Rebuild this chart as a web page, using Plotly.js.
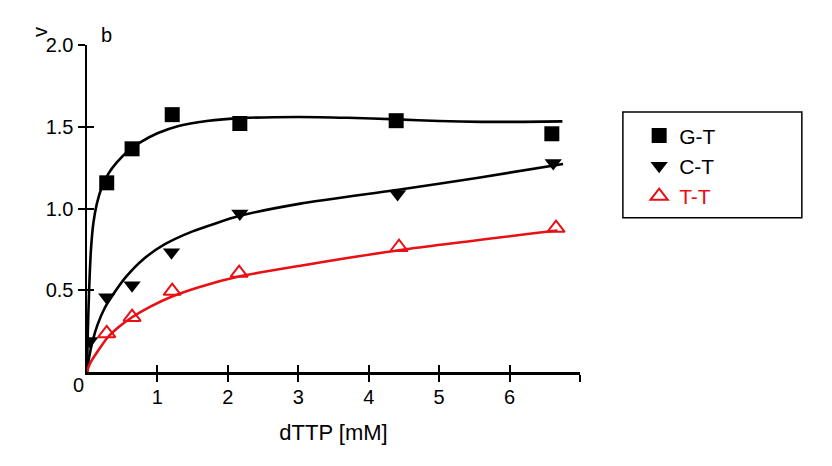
<!DOCTYPE html>
<html>
<head>
<meta charset="utf-8">
<script src="https://cdn.plot.ly/plotly-3.0.1.min.js"></script>
<style>
  html, body { margin: 0; padding: 0; background: #fff; }
  #chart { width: 832px; height: 466px; }
</style>
</head>
<body>
<div id="chart"></div>
<script>
// measured points, dTTP [mM] vs v
var dttp = [0.04, 0.28, 0.64, 1.2, 2.17, 4.41, 6.62];
var gtX = [0.28, 0.64, 1.21, 2.17, 4.39, 6.6];
var gtV = [1.157, 1.365, 1.574, 1.52, 1.537, 1.457];
var ctV = [0.19, 0.457, 0.531, 0.733, 0.97, 1.089, 1.278];
var ttX = [0.28, 0.64, 1.21, 2.16, 4.43, 6.66];
var ttV = [0.236, 0.335, 0.495, 0.605, 0.763, 0.88];

// fitted curves
var gtFitX = [0, 0.012, 0.03, 0.055, 0.09, 0.14, 0.21, 0.3, 0.42, 0.58, 0.78, 1.0, 1.3, 1.7, 2.2, 3.0, 3.7, 4.4, 5.0, 5.6, 6.2, 6.75];
var gtFitV = [0, 0.25, 0.5, 0.74, 0.91, 1.03, 1.13, 1.21, 1.28, 1.35, 1.41, 1.46, 1.505, 1.535, 1.553, 1.56, 1.555, 1.545, 1.535, 1.53, 1.53, 1.533];
var ctFitX = [0, 0.03, 0.08, 0.15, 0.25, 0.38, 0.55, 0.8, 1.1, 1.5, 2.17, 3.03, 4.42, 5.58, 6.76];
var ctFitV = [0, 0.09, 0.19, 0.29, 0.39, 0.48, 0.58, 0.69, 0.78, 0.86, 0.955, 1.03, 1.115, 1.19, 1.272];
var ttFitX = [0, 0.03, 0.08, 0.15, 0.28, 0.45, 0.64, 0.9, 1.2, 1.6, 2.17, 3.03, 4.43, 6.68];
var ttFitV = [0, 0.04, 0.08, 0.125, 0.205, 0.275, 0.335, 0.4, 0.46, 0.52, 0.585, 0.65, 0.745, 0.865];

var xTicks = [1, 2, 3, 4, 5, 6, 7];
var xTickText = ['1', '2', '3', '4', '5', '6', ''];
var yTicks = [0.5, 1.0, 1.5, 2.0];
var yTickText = ['0.5', '1.0', '1.5', '2.0'];

var red = 'rgb(232,16,20)';
var fnt = 'Liberation Sans, Arial, sans-serif';

var fitLine = function(x, y, color) {
  return {x: x, y: y, mode: 'lines', type: 'scatter', showlegend: false, hoverinfo: 'skip',
          line: {color: color, width: 2.6, shape: 'spline', smoothing: 0.6}};
};

var data = [
  fitLine(gtFitX, gtFitV, '#000'),
  fitLine(ctFitX, ctFitV, '#000'),
  fitLine(ttFitX, ttFitV, red),
  {x: gtX, y: gtV, name: 'G-T', mode: 'markers', type: 'scatter', xaxis: 'x2', yaxis: 'y2',
   marker: {symbol: 'square', size: 15, color: '#000'}},
  {x: dttp, y: ctV, name: 'C-T', mode: 'markers', type: 'scatter', xaxis: 'x2', yaxis: 'y2',
   marker: {symbol: 'triangle-down', size: 15, color: '#000'}},
  {x: ttX, y: ttV, name: '<span style="color:' + red + '">T-T</span>', mode: 'markers', type: 'scatter',
   xaxis: 'x2', yaxis: 'y2',
   marker: {symbol: 'triangle-up-open', size: 15, color: red, line: {width: 2, color: red}}}
];

var layout = {
  width: 832, height: 466,
  margin: {l: 87, r: 252, t: 45, b: 94},
  paper_bgcolor: '#fff', plot_bgcolor: '#fff',
  font: {family: fnt, size: 20, color: '#000'},
  showlegend: true,
  xaxis: {
    range: [0, 7], showgrid: false, zeroline: false,
    showline: true, linecolor: '#000', linewidth: 2.5,
    tickmode: 'array', tickvals: xTicks, ticktext: xTickText,
    ticks: 'outside', ticklen: 7, tickwidth: 2, tickcolor: '#000', ticklabelstandoff: -2,
    title: {text: 'dTTP [mM]', font: {size: 22}, standoff: 18}
  },
  yaxis: {
    range: [0, 2], showgrid: false, zeroline: false,
    showline: true, linecolor: '#000', linewidth: 2.5,
    tickmode: 'array', tickvals: yTicks, ticktext: yTickText,
    ticks: 'outside', ticklen: 7, tickwidth: 2, tickcolor: '#000'
  },
  // second pair of axes only to draw the inner half of the crossing ticks
  xaxis2: {
    overlaying: 'x', anchor: 'y2', range: [0, 7], showgrid: false, zeroline: false, showline: false,
    tickmode: 'array', tickvals: xTicks, ticks: 'inside', ticklen: 7, tickwidth: 2, tickcolor: '#000',
    showticklabels: false
  },
  yaxis2: {
    overlaying: 'y', anchor: 'x2', range: [0, 2], showgrid: false, zeroline: false, showline: false,
    tickmode: 'array', tickvals: yTicks, ticks: 'inside', ticklen: 7, tickwidth: 2, tickcolor: '#000',
    showticklabels: false
  },
  legend: {
    x: 1.12, y: 0.785, xanchor: 'left', yanchor: 'top',
    bgcolor: 'rgba(0,0,0,0)', borderwidth: 0,
    font: {family: fnt, size: 21, color: '#000'}
  },
  shapes: [
    {type: 'rect', xref: 'paper', yref: 'paper', x0: 1.087, x1: 1.45, y0: 0.472, y1: 0.795,
     line: {color: '#000', width: 1.5}, fillcolor: 'rgba(0,0,0,0)'}
  ],
  annotations: [
    {text: '0', xref: 'paper', yref: 'paper', x: -0.018, y: -0.04, showarrow: false,
     xanchor: 'center', yanchor: 'middle', font: {size: 20}},
    {text: 'v', xref: 'paper', yref: 'paper', x: -0.095, y: 1.04, showarrow: false, textangle: -90,
     xanchor: 'center', yanchor: 'middle', font: {size: 20}},
    {text: 'b', xref: 'paper', yref: 'paper', x: 0.04, y: 1.03, showarrow: false,
     xanchor: 'center', yanchor: 'middle', font: {size: 20}}
  ]
};

Plotly.newPlot('chart', data, layout, {displayModeBar: false, staticPlot: true});
</script>
</body>
</html>
